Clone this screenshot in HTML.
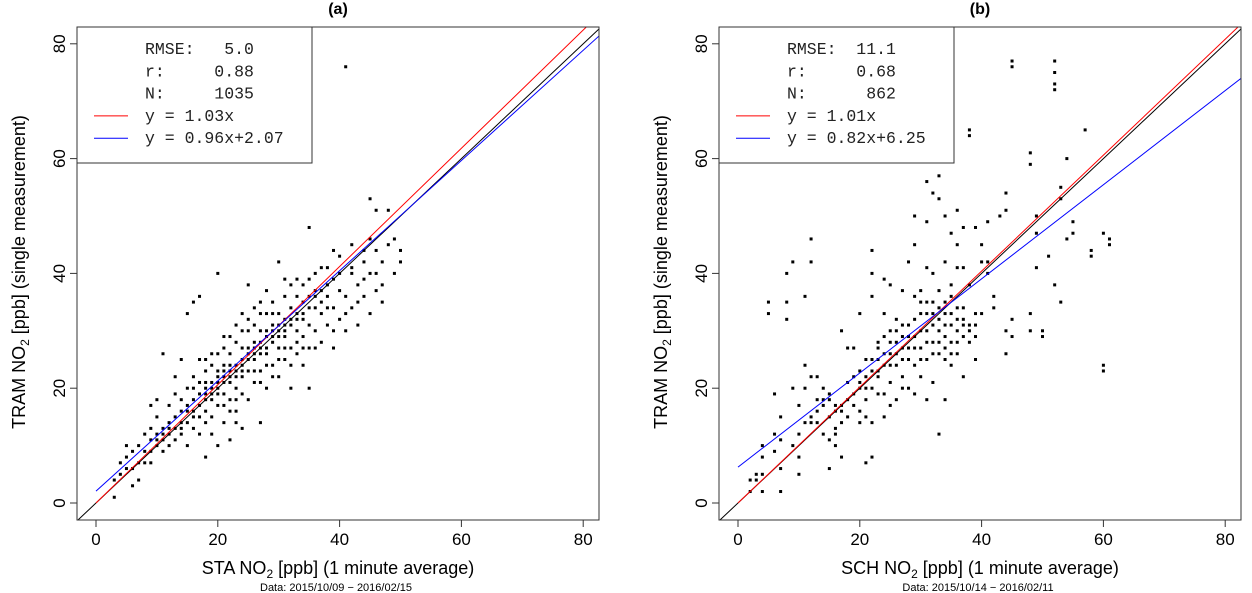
<!DOCTYPE html>
<html><head><meta charset="utf-8"><style>
html,body{margin:0;padding:0;background:#fff;width:1252px;height:593px;overflow:hidden}
svg{display:block;font-family:"Liberation Sans",sans-serif}
</style></head><body>
<svg id="chart" width="1252" height="593" viewBox="0 0 1252 593" xmlns="http://www.w3.org/2000/svg"></svg>
<script>
// ---- data ----
const tickValues = [0, 20, 40, 60, 80];
const panelTitles = ["(a)", "(b)"];
const xTitlesPrefix = ["STA NO", "SCH NO"];
const dateCaptions = ["Data: 2015/10/09 − 2016/02/15", "Data: 2015/10/14 − 2016/02/11"];
const rmseVals = ["5.0", "11.1"];
const rVals = ["0.88", "0.68"];
const nVals = ["1035", "862"];
const slopeThroughOrigin = [1.03, 1.01];
const fitSlope = [0.96, 0.82];
const fitIntercept = [2.07, 6.25];
const pointsA = [[3,1],[3,4],[4,5],[4,7],[5,6],[5,8],[6,3],[6,9],[7,7],[7,10],[8,9],[8,12],[9,7],[9,11],[9,13],[10,10],[10,12],[10,15],[11,9],[11,13],[11,26],[12,12],[12,14],[12,17],[13,11],[13,15],[13,19],[14,12],[14,14],[14,18],[14,25],[15,10],[15,16],[15,20],[15,33],[16,13],[16,15],[16,18],[16,35],[16,22],[17,12],[17,17],[17,21],[17,36],[18,8],[18,14],[18,19],[18,23],[18,16],[19,15],[19,18],[19,21],[19,24],[20,10],[20,17],[20,20],[20,26],[20,40],[21,14],[21,19],[21,22],[21,24],[21,29],[22,11],[22,18],[22,21],[22,23],[22,26],[23,16],[23,20],[23,24],[23,28],[23,31],[24,19],[24,22],[24,25],[24,33],[24,13],[25,18],[25,23],[25,27],[25,30],[25,38],[26,21],[26,25],[26,28],[26,34],[27,23],[27,27],[27,30],[27,14],[28,20],[28,26],[28,29],[28,33],[28,37],[29,24],[29,28],[29,31],[29,35],[30,22],[30,27],[30,30],[30,33],[30,42],[31,25],[31,29],[31,32],[31,36],[32,20],[32,27],[32,31],[32,34],[32,38],[33,26],[33,30],[33,33],[33,39],[34,24],[34,29],[34,32],[34,35],[35,27],[35,31],[35,36],[35,48],[35,20],[36,30],[36,34],[36,40],[37,28],[37,33],[37,37],[38,31],[38,36],[38,41],[39,27],[39,34],[39,39],[40,32],[40,37],[40,43],[41,76],[41,30],[41,36],[42,34],[42,40],[42,45],[43,31],[43,38],[44,36],[44,42],[45,33],[45,40],[45,46],[45,53],[46,37],[46,44],[46,51],[47,35],[47,42],[48,51],[49,40],[49,46],[50,44],[50,42],[9,17],[10,18],[13,22],[7,4],[5,10],[19,12],[21,27],[23,18],[26,31],[27,33],[24,27],[20,23],[18,21],[16,20],[14,16],[12,10],[11,11],[29,33],[31,39],[33,36],[35,39],[37,41],[39,44],[27,35],[22,29],[25,32],[28,24],[30,25],[32,24],
[6,6],[8,7],[9,9],[10,11],[11,12],[12,13],[13,13],[14,13],[15,14],[15,17],[16,16],[17,15],[17,19],[18,18],[18,20],[19,19],[19,20],[20,19],[20,21],[20,22],[21,21],[21,23],[22,22],[22,24],[23,22],[23,23],[24,23],[24,24],[25,25],[25,26],[26,26],[26,27],[27,26],[27,28],[28,27],[28,30],[29,29],[29,30],[30,29],[30,31],[31,30],[31,31],[32,32],[33,32],[34,33],[35,34],[36,36],[37,35],[38,38],[40,40],[42,41],[44,44],[21,17],[22,16],[23,14],[19,26],[18,25],[17,25],[24,30],[26,23],[27,21],[29,22],[31,27],[33,28],[34,38],[36,37],[38,34],[41,33],[43,35],[44,39],[46,40],[47,38],[48,45],[39,30],[36,27],[34,27]];
const pointsB = [[2,2],[2,4],[3,4],[3,5],[4,2],[4,5],[4,8],[4,10],[5,33],[5,35],[6,19],[6,12],[6,9],[7,2],[7,6],[7,11],[7,15],[8,32],[8,35],[8,40],[9,10],[9,42],[9,20],[10,17],[10,5],[10,8],[11,36],[11,24],[11,14],[11,20],[12,15],[12,22],[12,42],[12,46],[13,18],[13,14],[13,22],[14,12],[14,17],[14,20],[15,11],[15,19],[15,6],[15,15],[16,13],[16,10],[16,16],[17,17],[17,30],[17,8],[17,14],[18,18],[18,27],[18,15],[19,22],[19,19],[19,27],[20,20],[20,16],[20,33],[20,23],[21,18],[21,22],[21,7],[21,25],[22,44],[22,40],[22,36],[22,25],[22,14],[22,8],[23,22],[23,19],[23,28],[23,27],[24,24],[24,15],[24,33],[24,39],[25,26],[25,30],[25,21],[25,38],[26,32],[26,28],[26,24],[26,18],[27,37],[27,25],[27,29],[27,22],[28,31],[28,27],[28,20],[28,42],[29,50],[29,45],[29,36],[29,29],[29,24],[30,35],[30,30],[30,27],[30,22],[31,56],[31,41],[31,49],[31,33],[31,25],[31,18],[32,54],[32,40],[32,31],[32,28],[32,21],[33,53],[33,37],[33,34],[33,26],[33,12],[34,50],[34,42],[34,35],[34,29],[34,25],[34,18],[35,47],[35,38],[35,33],[35,28],[35,24],[36,51],[36,45],[36,41],[36,32],[36,28],[37,48],[37,41],[37,34],[37,29],[37,22],[38,38],[38,31],[38,28],[39,48],[39,33],[39,29],[39,25],[40,45],[40,42],[40,33],[41,49],[41,42],[41,40],[42,36],[42,34],[43,50],[44,54],[44,51],[44,30],[44,26],[45,77],[45,76],[45,32],[45,29],[48,61],[48,59],[48,33],[48,30],[49,41],[49,47],[49,50],[50,29],[50,30],[51,43],[52,38],[52,77],[52,75],[52,73],[52,72],[53,55],[53,53],[53,35],[54,60],[54,46],[55,49],[55,47],[57,65],[58,44],[58,43],[60,47],[60,24],[60,23],[61,46],[61,45],[38,65],[38,64],[33,57],[32,63],[30,33],[31,28],[33,30],[35,26],[36,34],[34,31],[32,35],[29,27],[27,27],[25,24],[23,25],[21,20],[19,17],[17,16],[24,29],[26,26],
[14,18],[15,18],[16,17],[16,12],[18,21],[20,21],[21,15],[22,20],[23,23],[24,26],[25,28],[26,30],[27,31],[28,29],[28,25],[29,32],[30,37],[30,25],[31,30],[31,35],[32,33],[32,26],[33,32],[33,28],[34,27],[34,33],[35,31],[35,36],[36,30],[36,26],[37,32],[37,31],[38,30],[39,31],[29,19],[27,20],[25,17],[24,19],[22,23],[20,14],[13,16],[12,14],[10,12]];
const panelPoints = [pointsA, pointsB];

// ---- layout ----
const NS = "http://www.w3.org/2000/svg";
const svg = document.getElementById("chart");
function mk(tag, attrs, parent) {
  const e = document.createElementNS(NS, tag);
  for (const k in attrs) e.setAttribute(k, attrs[k]);
  (parent || svg).appendChild(e);
  return e;
}
const boxes = [{l:77, r:599, t:27, b:520, x0:96}, {l:719, r:1241, t:27, b:520, x0:738}];
const PX = 6.09, PY = 5.74, Y0 = 503;

boxes.forEach((B, i) => {
  const xs = v => B.x0 + v * PX;
  const ys = v => Y0 - v * PY;
  const g = mk("g", {});
  
  
  const clipId = "clip" + i;
  const cp = mk("clipPath", {id: clipId}, g);
  mk("rect", {x: B.l, y: B.t, width: B.r - B.l, height: B.b - B.t}, cp);

  const title = mk("text", {x: (B.l + B.r) / 2, y: 14, "text-anchor": "middle", "font-size": 16, "font-weight": "bold"}, g);
  title.textContent = panelTitles[i];
  
  

  const pg = mk("g", {"clip-path": "url(#" + clipId + ")"}, g);
  
  
  panelPoints[i].forEach(p => {
    const c = mk("rect", {x: xs(p[0]) - 1.5, y: ys(p[1]) - 1.5, width: 3, height: 3, fill: "#000"}, pg);
    
    
  });

  const lg = mk("g", {"clip-path": "url(#" + clipId + ")"}, g);
  const one = mk("line", {x1: xs(-10), y1: ys(-10), x2: xs(100), y2: ys(100), stroke: "#000", "stroke-width": 1}, lg);
  
  
  const red = mk("line", {x1: xs(0), y1: ys(0), x2: xs(100), y2: ys(100 * slopeThroughOrigin[i]), stroke: "#ff0000", "stroke-width": 1}, lg);
  
  
  const blue = mk("line", {x1: xs(0), y1: ys(fitIntercept[i]), x2: xs(100), y2: ys(100 * fitSlope[i] + fitIntercept[i]), stroke: "#0000ff", "stroke-width": 1}, lg);
  
  

  const box = mk("rect", {x: B.l, y: B.t, width: B.r - B.l, height: B.b - B.t, fill: "none", stroke: "#333", "stroke-width": 1}, g);
  
  

  tickValues.forEach(v => {
    mk("line", {x1: xs(v), y1: B.b, x2: xs(v), y2: B.b + 7, stroke: "#333"}, g);
    const tx = mk("text", {x: xs(v), y: B.b + 25, "text-anchor": "middle", "font-size": 17}, g);
    tx.textContent = v;
    
    
    mk("line", {x1: B.l - 7, y1: ys(v), x2: B.l, y2: ys(v), stroke: "#333"}, g);
    const ty = mk("text", {x: 0, y: 0, "text-anchor": "middle", "font-size": 17, transform: "translate(" + (B.l - 12) + "," + ys(v) + ") rotate(-90)"}, g);
    ty.textContent = v;
    
    
  });

  const xt = mk("text", {x: (B.l + B.r) / 2, y: 574, "text-anchor": "middle", "font-size": 18}, g);
  xt.innerHTML = xTitlesPrefix[i] + '<tspan font-size="12" dy="4">2</tspan><tspan dy="-4"> [ppb] (1 minute average)</tspan>';
  
  
  const cap = mk("text", {x: (B.l + B.r) / 2 - 2, y: 591, "text-anchor": "middle", "font-size": 11}, g);
  cap.textContent = dateCaptions[i];
  
  
  const yt = mk("text", {x: 0, y: 0, "text-anchor": "middle", "font-size": 18, transform: "translate(" + (B.l - 52) + ",272) rotate(-90)"}, g);
  yt.innerHTML = 'TRAM NO<tspan font-size="12" dy="4">2</tspan><tspan dy="-4"> [ppb] (single measurement)</tspan>';
  
  

  const lgd = mk("g", {}, g);
  
  
  mk("rect", {x: B.l, y: B.t, width: 235, height: 136, fill: "#fff", stroke: "#333", "stroke-width": 1}, lgd);
  const rows = ["RMSE: " + rmseVals[i].padStart(5, " "), "r:    " + rVals[i].padStart(5, " "), "N:    " + nVals[i].padStart(5, " "),
    "y = " + slopeThroughOrigin[i].toFixed(2) + "x", "y = " + fitSlope[i].toFixed(2) + "x+" + fitIntercept[i].toFixed(2)];
  rows.forEach((txt, k) => {
    const y = 54 + k * 22.3;
    const t = mk("text", {x: B.l + 68, y: y, "font-size": 16.5, "font-family": "Liberation Mono, monospace", fill: "#222"}, lgd);
    t.style.whiteSpace = "pre";
    t.textContent = txt;
    
    
    if (k >= 3) {
      mk("line", {x1: B.l + 17, y1: y - 5, x2: B.l + 51, y2: y - 5, stroke: k === 3 ? "#ff0000" : "#0000ff", "stroke-width": 1}, lgd);
    }
  });
});
</script>
</body></html>
